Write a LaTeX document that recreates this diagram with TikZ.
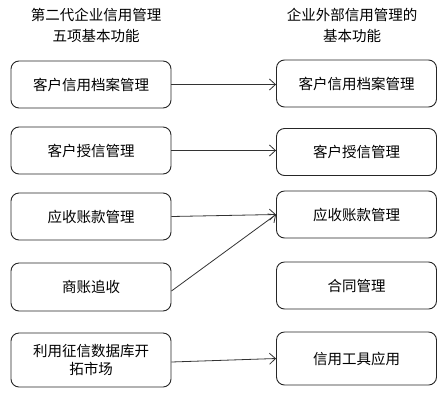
\documentclass[tikz,border=0pt]{standalone}
\usepackage{fontspec}
\setmainfont{Noto Sans CJK SC}
\usetikzlibrary{arrows.meta}
\begin{document}
\begin{tikzpicture}[x=1pt,y=-1pt,
  box/.style={draw=black!85, line width=0.9pt, rounded corners=8pt, minimum width=160pt, inner sep=2pt, align=center, font=\fontsize{14.5}{18}\selectfont},
  head/.style={align=center, font=\fontsize{14.5}{21}\selectfont},
  conn/.style={draw=black!80, line width=0.8pt, -{Straight Barb[length=6pt,width=11pt]}}]
\useasboundingbox (0,0) rectangle (446,402);
\node[head] (hl) at (96,25) {第二代企业信用管理\\五项基本功能};
\node[head] (hr) at (352,25) {企业外部信用管理的\\基本功能};
\node[box, minimum height=47pt] (l1) at (91,84.5) {客户信用档案管理};
\node[box, minimum height=47pt] (l2) at (91,150.5) {客户授信管理};
\node[box, minimum height=47pt] (l3) at (91,216.5) {应收账款管理};
\node[box, minimum height=48pt] (l4) at (91,287) {商账追收};
\node[box, minimum height=54pt] (l5) at (91,360) {利用征信数据库开\\拓市场};
\node[box, minimum height=47pt] (r1) at (356.5,83.5) {客户信用档案管理};
\node[box, minimum height=47pt] (r2) at (356.5,152) {客户授信管理};
\node[box, minimum height=47pt] (r3) at (356.5,214.5) {应收账款管理};
\node[box, minimum height=47pt] (r4) at (356.5,285.5) {合同管理};
\node[box, minimum height=53pt] (r5) at (356.5,358.5) {信用工具应用};
\draw[conn] (l1.east) -- (l1.east -| r1.west);
\draw[conn] (l2.east) -- (l2.east -| r2.west);
\draw[conn] (l3.east) -- (r3.west);
\draw[conn] ([yshift=-4pt]l4.east) -- (r3.west);
\draw[conn] ([yshift=-2pt]l5.east) -- (r5.west);
\end{tikzpicture}
\end{document}
